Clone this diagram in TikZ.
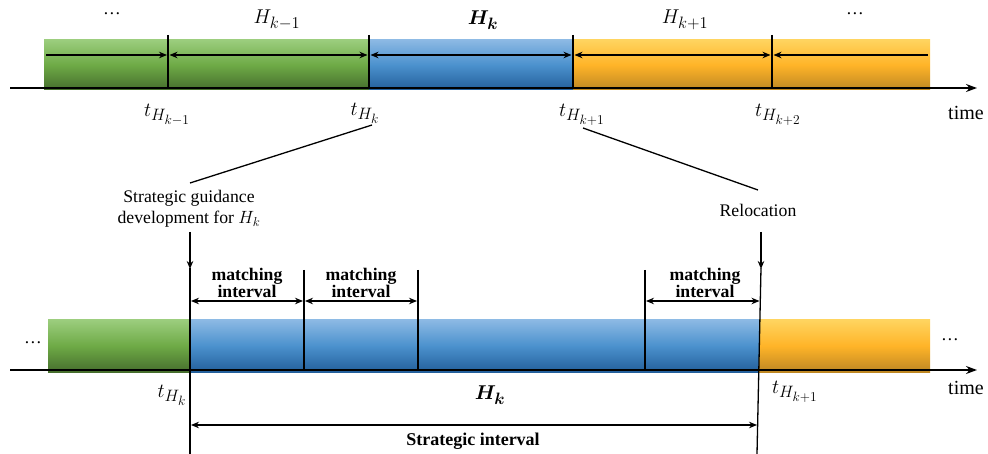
\RequirePackage{fix-cm}
\documentclass[tikz,border=0pt]{standalone}
\usepackage{fontspec}
\setmainfont{Liberation Serif}
\usepackage{amsmath,bm}
\DeclareMathSizes{20}{20}{16.5}{13.5}
\DeclareMathSizes{17.7}{17.7}{13}{10}
\usetikzlibrary{arrows.meta}
\definecolor{greenT}{RGB}{155,205,125}
\definecolor{greenM}{RGB}{110,170,70}
\definecolor{greenB}{RGB}{70,110,45}
\definecolor{blueT}{RGB}{140,185,228}
\definecolor{blueM}{RGB}{75,145,205}
\definecolor{blueB}{RGB}{35,95,155}
\definecolor{orangeT}{RGB}{255,212,95}
\definecolor{orangeM}{RGB}{255,180,40}
\definecolor{orangeB}{RGB}{190,135,35}
\tikzset{
  greenbar/.style={top color=greenT, bottom color=greenB, middle color=greenM},
  bluebar/.style={top color=blueT, bottom color=blueB, middle color=blueM},
  orangebar/.style={top color=orangeT, bottom color=orangeB, middle color=orangeM},
  axisline/.style={line width=1.7pt, -{Stealth[length=11pt,width=8pt]}},
  tickline/.style={line width=1.3pt},
  ra/.style={line width=1.2pt, -{Stealth[length=8pt,width=6.5pt]}},
  la/.style={line width=1.2pt, {Stealth[length=8pt,width=6.5pt]}-},
  da/.style={line width=1.2pt, {Stealth[length=8pt,width=6.5pt]}-{Stealth[length=8pt,width=6.5pt]}},
  guide/.style={line width=1.3pt},
  txt/.style={font=\fontsize{17.7}{21}\selectfont, inner sep=0pt, align=center},
  btxt/.style={font=\fontsize{17.7}{17}\selectfont\bfseries, inner sep=0pt, align=center},
  mlbl/.style={font=\fontsize{20}{20}\selectfont, inner sep=0pt},
}
\begin{document}
\begin{tikzpicture}[x=1pt,y=-1pt]
\useasboundingbox (0,0) rectangle (988,454);
% ---------------- top timeline ----------------
\fill[greenbar] (44,40) rectangle (369,90);
\fill[bluebar] (369,40) rectangle (573,90);
\fill[orangebar] (573,40) rectangle (930,90);
\coordinate (ta0) at (10,88);
\coordinate (ta1) at (977,88);
\draw[axisline] (ta0) -- (ta1);
\foreach \x/\n in {168/a,369/b,573/c,772/d}{
  \coordinate (tt\n) at (\x,35);
  \coordinate (tb\n) at (\x,89);
  \draw[tickline] (tt\n) -- (tb\n);
}
\coordinate (s0) at (46,55);
\coordinate (s1l) at (167,55); \coordinate (s1r) at (169.5,55);
\coordinate (s2l) at (367.5,55); \coordinate (s2r) at (370.5,55);
\coordinate (s3l) at (571.5,55); \coordinate (s3r) at (574.5,55);
\coordinate (s4l) at (770.5,55); \coordinate (s4r) at (773.5,55);
\coordinate (s5) at (928,55);
\draw[ra] (s0) -- (s1l);
\draw[da] (s1r) -- (s2l);
\draw[da] (s2r) -- (s3l);
\draw[da] (s3r) -- (s4l);
\draw[la] (s4r) -- (s5);
\node[txt] (dotsA) at (112,14) {\dots};
\node[mlbl] (hkm) at (277,20) {$H_{k-1}$};
\node[mlbl] (hk) at (483,20) {$\boldsymbol{H_k}$};
\node[mlbl] (hkp) at (685,20) {$H_{k+1}$};
\node[txt] (dotsB) at (855,14) {\dots};
\node[mlbl] (lt1) at (167,115) {$t_{H_{k-1}}$};
\node[mlbl] (lt2) at (365,113) {$t_{H_k}$};
\node[mlbl] (lt3) at (582,115) {$t_{H_{k+1}}$};
\node[mlbl] (lt4) at (778,115) {$t_{H_{k+2}}$};
\node[txt, font=\fontsize{20}{20}\selectfont] (time1) at (966,113) {time};
% ---------------- guides ----------------
\node[txt] (sg) at (189,209) {Strategic guidance\\development for $H_k$};
\node[txt] (rel) at (758,210) {Relocation};
\coordinate (g1a) at (372,125); \coordinate (g1b) at (190,183);
\coordinate (g2a) at (583,128); \coordinate (g2b) at (758,190);
\draw[guide] (g1a) -- (g1b);
\draw[guide] (g2a) -- (g2b);
\coordinate (d1a) at (190,232); \coordinate (d1b) at (190,269);
\coordinate (d2a) at (761,232); \coordinate (d2b) at (761,269);
\draw[ra, line width=1.4pt] (d1a) -- (d1b);
\draw[ra, line width=1.4pt] (d2a) -- (d2b);
% ---------------- bottom timeline ----------------
\fill[greenbar] (48,320) rectangle (190,372);
\fill[bluebar] (190,320) rectangle (759,372);
\fill[orangebar] (759,320) rectangle (930,372);
\coordinate (ba0) at (10,370);
\coordinate (ba1) at (977,370);
\draw[axisline] (ba0) -- (ba1);
\coordinate (v1t) at (190,268); \coordinate (v1b) at (190,454);
\coordinate (v2t) at (304,270); \coordinate (v2b) at (304,370);
\coordinate (v3t) at (418,270); \coordinate (v3b) at (418,370);
\coordinate (v4t) at (645,270); \coordinate (v4b) at (645,370);
\coordinate (v5t) at (761,268); \coordinate (v5b) at (757,454);
\foreach \n in {1,...,5}{\draw[tickline] (v\n t) -- (v\n b);}
\coordinate (m1a) at (191,301); \coordinate (m1b) at (303,301);
\coordinate (m2a) at (305,301); \coordinate (m2b) at (417,301);
\coordinate (m3a) at (646,301); \coordinate (m3b) at (759.5,301);
\draw[da] (m1a) -- (m1b);
\draw[da] (m2a) -- (m2b);
\draw[da] (m3a) -- (m3b);
\node[btxt] (mi1) at (247,283) {matching\\interval};
\node[btxt] (mi2) at (361,283) {matching\\interval};
\node[btxt] (mi3) at (705,283) {matching\\interval};
\node[txt] (dotsC) at (33,343) {\dots};
\node[txt] (dotsD) at (950,340) {\dots};
\node[mlbl] (bt1) at (172,395) {$t_{H_k}$};
\node[mlbl] (bhk) at (490,395) {$\boldsymbol{H_k}$};
\node[mlbl] (bt2) at (795,392) {$t_{H_{k+1}}$};
\node[txt, font=\fontsize{20}{20}\selectfont] (time2) at (966,388) {time};
\coordinate (sia) at (191,425); \coordinate (sib) at (757,425);
\draw[da] (sia) -- (sib);
\node[btxt, font=\fontsize{18}{18}\selectfont\bfseries] (si) at (473,441) {Strategic interval};
\end{tikzpicture}
\end{document}
